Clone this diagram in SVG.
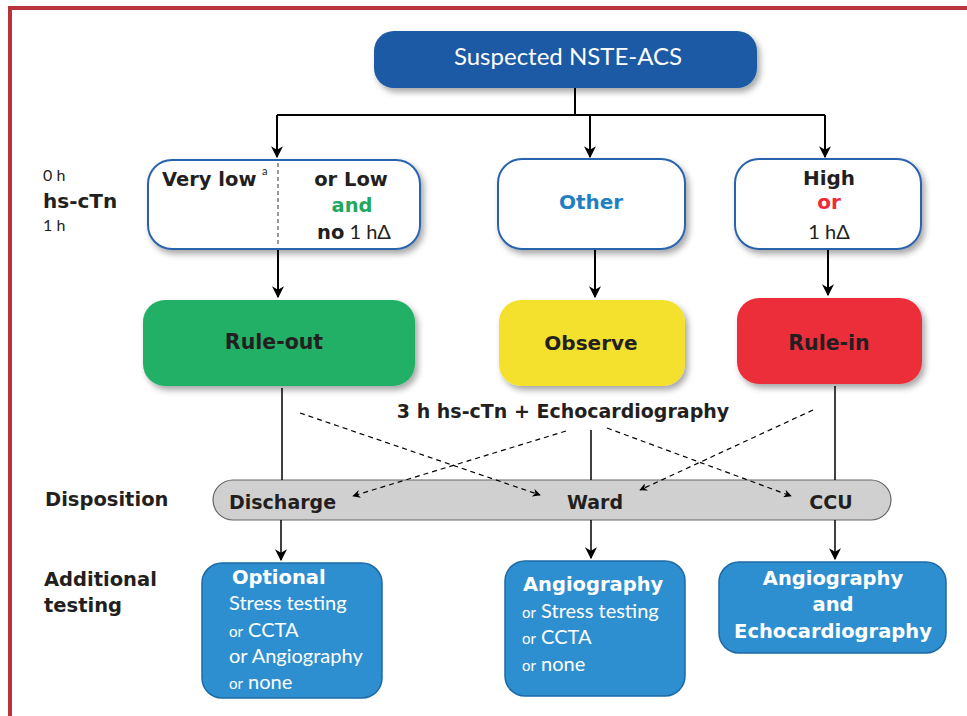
<svg xmlns="http://www.w3.org/2000/svg" width="967" height="716" viewBox="0 0 967 716">
<defs>
<filter id="sh" x="-10%" y="-10%" width="125%" height="135%">
<feDropShadow dx="3" dy="4" stdDeviation="3" flood-color="#000" flood-opacity="0.35"/>
</filter>
<marker id="ah" viewBox="0 0 10 10" refX="9" refY="5" markerWidth="8" markerHeight="8" orient="auto" markerUnits="userSpaceOnUse">
<path d="M0,0 L10,5 L0,10 L3,5 Z" fill="#000"/>
</marker>
<marker id="ahb" viewBox="0 0 10 10" refX="9" refY="5" markerWidth="12" markerHeight="12" orient="auto" markerUnits="userSpaceOnUse">
<path d="M0,0 L10,5 L0,10 L3,5 Z" fill="#000"/>
</marker>
</defs>
<style>
text{font-family:Lato,"Open Sans","Liberation Sans",sans-serif;fill:#231f20}
.b{font-family:"DejaVu Sans","Liberation Sans",sans-serif;font-weight:bold}
.c{text-anchor:middle}
.w{fill:#fff}
.wb{fill:#fff;stroke:#2a64ad;stroke-width:2}
.bot{fill:#2e8fd0;stroke:#1e6aa6;stroke-width:1.5}
.ln{stroke:#000;stroke-width:2;fill:none}
.thin{stroke:#000;stroke-width:1.5;fill:none}
.dash{stroke:#000;stroke-width:1.2;fill:none;stroke-dasharray:5,4}
</style>
<rect width="967" height="716" fill="#fff"/>
<g id="frame">
<path d="M10,716 L10,8 L967,8" fill="none" stroke="#b8333c" stroke-width="4"/>
</g>
<g id="labels">
<text x="43" y="181" font-size="16">0 h</text>
<text x="43" y="208" font-size="20" class="b">hs-cTn</text>
<text x="43" y="231" font-size="16">1 h</text>
<text x="45" y="506" font-size="19.5" class="b">Disposition</text>
<text x="44" y="586" font-size="19.5" class="b">Additional</text>
<text x="44" y="612" font-size="19.5" class="b">testing</text>
<text x="563" y="418" font-size="19" class="b c">3 h hs-cTn + Echocardiography</text>
</g>
<g id="n-suspected">
<rect x="374" y="31" width="383" height="57" rx="20" fill="#1a5aa6" filter="url(#sh)"/>
<text x="568" y="65" font-size="24" class="c w">Suspected NSTE-ACS</text>
</g>
<g id="n-verylow">
<rect x="148" y="160" width="272" height="89" rx="24" class="wb" filter="url(#sh)"/>
<path d="M278,163 V246" stroke="#555" stroke-width="1.2" stroke-dasharray="4,3"/>
<text x="162" y="186" font-size="19.5" class="b">Very low</text>
<text x="262" y="175" font-size="11">a</text>
<text x="351" y="186" font-size="19.5" class="b c">or Low</text>
<text x="352" y="212" font-size="19.5" class="b c" style="fill:#22a85e">and</text>
<text x="354" y="239" class="c"><tspan class="b" font-size="19.5">no</tspan><tspan font-size="20"> 1 hΔ</tspan></text>
</g>
<g id="n-other">
<rect x="498" y="159" width="187" height="90" rx="24" class="wb" filter="url(#sh)"/>
<text x="591" y="209" font-size="20" class="b c" style="fill:#1f7fc4">Other</text>
</g>
<g id="n-high">
<rect x="735" y="159" width="186" height="90" rx="24" class="wb" filter="url(#sh)"/>
<text x="829" y="185" font-size="20" class="b c">High</text>
<text x="829" y="209" font-size="20" class="b c" style="fill:#ee2a36">or</text>
<text x="829" y="239" font-size="20" class="c">1 hΔ</text>
</g>
<g id="n-ruleout">
<rect x="143" y="300" width="272" height="86" rx="22" fill="#22b066" filter="url(#sh)"/>
<text x="274" y="349" font-size="20.5" class="b c">Rule-out</text>
</g>
<g id="n-observe">
<rect x="499" y="300" width="186" height="86" rx="22" fill="#f4e12f" filter="url(#sh)"/>
<text x="591" y="350" font-size="20" class="b c">Observe</text>
</g>
<g id="n-rulein">
<rect x="737" y="298" width="185" height="86" rx="22" fill="#ec2d3a" filter="url(#sh)"/>
<text x="829" y="350" font-size="20.5" class="b c">Rule-in</text>
</g>
<g id="n-disposition">
<rect x="213" y="480" width="678" height="40" rx="20" fill="#d0d0d0" stroke="#666" stroke-width="1.2"/>
<text x="229" y="509" font-size="19" class="b">Discharge</text>
<text x="595" y="509" font-size="19" class="b c">Ward</text>
<text x="831" y="509" font-size="19" class="b c">CCU</text>
</g>
<g id="n-optional">
<rect x="202" y="563" width="180" height="135" rx="20" class="bot"/>
<text x="232" y="584" font-size="19.5" class="b w">Optional</text>
<text x="229" y="610" font-size="20" class="w">Stress testing</text>
<text x="229" y="637" class="w"><tspan font-size="15">or</tspan><tspan font-size="20"> CCTA</tspan></text>
<text x="229" y="663" font-size="20" class="w">or Angiography</text>
<text x="229" y="689" class="w"><tspan font-size="15">or</tspan><tspan font-size="20"> none</tspan></text>
</g>
<g id="n-angio">
<rect x="505" y="561" width="180" height="135" rx="20" class="bot"/>
<text x="523" y="591" font-size="19.5" class="b w">Angiography</text>
<text x="522" y="618" class="w"><tspan font-size="15">or</tspan><tspan font-size="20"> Stress testing</tspan></text>
<text x="522" y="644" class="w"><tspan font-size="15">or</tspan><tspan font-size="20"> CCTA</tspan></text>
<text x="522" y="671" class="w"><tspan font-size="15">or</tspan><tspan font-size="20"> none</tspan></text>
</g>
<g id="n-angioecho">
<rect x="719" y="562" width="227" height="91" rx="20" class="bot"/>
<text x="833" y="585" font-size="19.5" class="b c w">Angiography</text>
<text x="833" y="611" font-size="19.5" class="b c w">and</text>
<text x="833" y="638" font-size="19.5" class="b c w">Echocardiography</text>
</g>
<g id="connectors">
<path class="ln" d="M575,88 V115"/>
<path class="ln" d="M277,115 H825"/>
<path class="ln" d="M277,115 V157" marker-end="url(#ahb)"/>
<path class="ln" d="M590,115 V157" marker-end="url(#ahb)"/>
<path class="ln" d="M825,115 V157" marker-end="url(#ahb)"/>
<path class="ln" d="M278,250 V297" marker-end="url(#ahb)"/>
<path class="ln" d="M595,250 V297" marker-end="url(#ahb)"/>
<path class="ln" d="M828,250 V295" marker-end="url(#ahb)"/>
<path class="thin" d="M282,388 V480"/>
<path class="thin" d="M591,430 V480"/>
<path class="thin" d="M835,386 V480"/>
<path class="dash" d="M300,413 L540,495" marker-end="url(#ah)"/>
<path class="dash" d="M566,431 L353,496" marker-end="url(#ah)"/>
<path class="dash" d="M607,428 L791,496" marker-end="url(#ah)"/>
<path class="dash" d="M813,410 L640,490" marker-end="url(#ah)"/>
<path class="thin" d="M281,520 V560" marker-end="url(#ahb)"/>
<path class="thin" d="M591,520 V558" marker-end="url(#ahb)"/>
<path class="thin" d="M835,520 V559" marker-end="url(#ahb)"/>
</g>
</svg>
